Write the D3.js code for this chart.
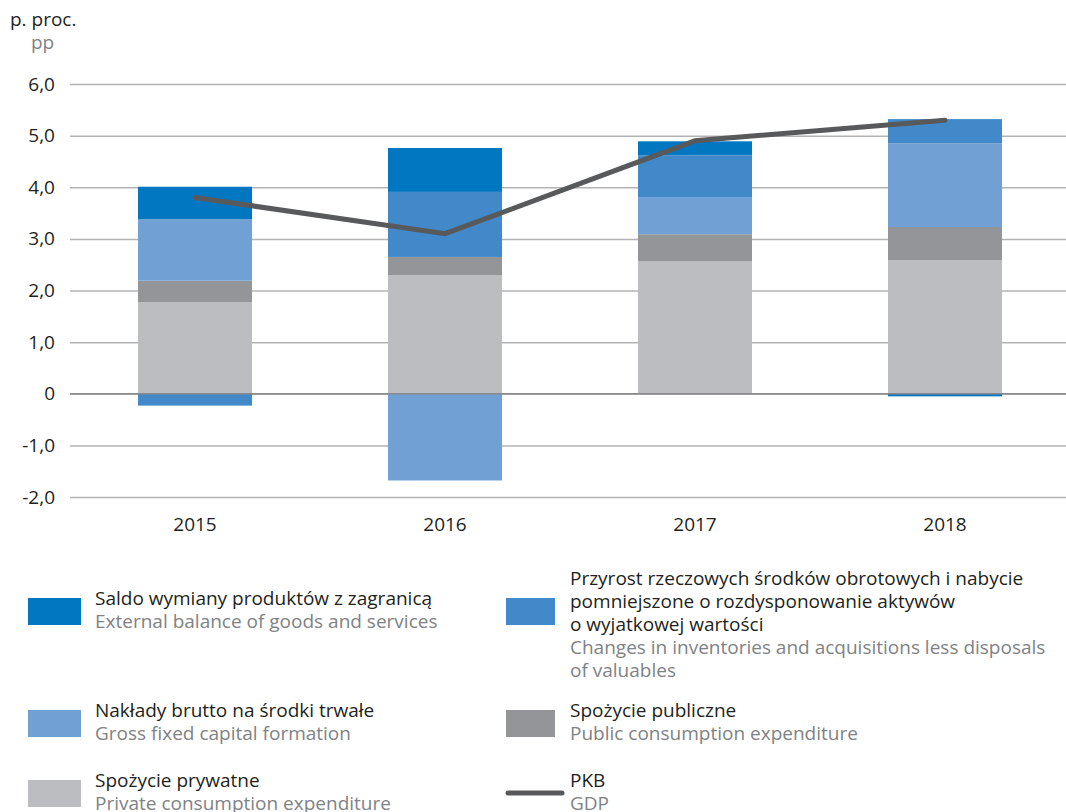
<!DOCTYPE html>
<html>
<head>
<meta charset="utf-8">
<script src="https://cdn.jsdelivr.net/npm/d3@7"></script>
<style>
  body { margin: 0; background: #fff; font-family: "Open Sans", "Noto Sans", sans-serif; }
  .grid line { stroke: #b3b3b5; stroke-width: 1.5px; }
  .grid .domain { display: none; }
</style>
</head>
<body>
<div id="chart"></div>
<script>
var years = ["2015", "2016", "2017", "2018"];
var privateCons = [1.77, 2.30, 2.57, 2.59];
var publicCons = [0.42, 0.35, 0.52, 0.64];
var grossFixed = [1.19, -1.68, 0.72, 1.62];
var inventories = [-0.23, 1.26, 0.81, 0.47];
var external = [0.63, 0.85, 0.27, -0.05];
var gdp = [3.8, 3.1, 4.9, 5.3];
var yTicks = [-2, -1, 0, 1, 2, 3, 4, 5, 6];

var seriesKeys = ["private", "public", "gross", "inv", "ext"];
var seriesColors = {ext: "#0077c0", inv: "#4289c9", gross: "#70a0d4", "public": "#939598", "private": "#bcbdc0"};

var rows = years.map(function(y, i){
  return {year: y, "private": privateCons[i], "public": publicCons[i], gross: grossFixed[i], inv: inventories[i], ext: external[i]};
});

var width = 1066, height = 812;
var margin = {top: 84, left: 70, right: -4};
var plotH = 413;

var svg = d3.select("#chart").append("svg")
  .attr("width", width)
  .attr("height", height);

/*Scales*/
var xScale = d3.scaleBand()
  .domain(years)
  .range([margin.left, width - margin.right])
  .paddingInner(0.544)
  .paddingOuter(0.272);

var yScale = d3.scaleLinear()
  .domain([6, -2])
  .range([margin.top, margin.top + plotH]);

function fmt(d){
  if (d === 0) return "0";
  return d3.format(".1f")(d).replace(".", ",").replace("\u2212", "-");
}

// gridlines + tick labels
var yAxis = d3.axisLeft(yScale)
  .tickValues(yTicks)
  .tickSize(-(width - margin.left))
  .tickPadding(15)
  .tickFormat(fmt);

var gy = svg.append("g")
  .attr("class", "grid")
  .attr("transform", "translate(" + margin.left + ",0)")
  .call(yAxis);
gy.selectAll("text")
  .style("font-size", "19px")
  .style("fill", "#231f20")
  .style("font-family", "'Open Sans', sans-serif");

/*stacked bars*/
var stack = d3.stack().keys(seriesKeys).offset(d3.stackOffsetDiverging);
var stacked = stack(rows);

svg.append("g").selectAll("g")
  .data(stacked)
  .join("g")
  .attr("fill", function(d){ return seriesColors[d.key]; })
  .selectAll("rect")
  .data(function(d){ return d; })
  .join("rect")
  .attr("x", function(d){ return xScale(d.data.year); })
  .attr("width", xScale.bandwidth())
  .attr("y", function(d){ return yScale(Math.max(d[0], d[1])); })
  .attr("height", function(d){ return Math.abs(yScale(d[0]) - yScale(d[1])); });

// zero line
svg.append("line")
  .attr("x1", margin.left).attr("x2", width)
  .attr("y1", yScale(0)).attr("y2", yScale(0))
  .attr("stroke", "#8a8a8c").attr("stroke-width", 1.5);

/*GDP line*/
var gdpLine = d3.line()
  .x(function(d, i){ return xScale(years[i]) + xScale.bandwidth() / 2; })
  .y(function(d){ return yScale(d); });

svg.append("path")
  .datum(gdp)
  .attr("d", gdpLine)
  .attr("fill", "none")
  .attr("stroke", "#58595b")
  .attr("stroke-width", 5)
  .attr("stroke-linecap", "round")
  .attr("stroke-linejoin", "miter");

// x labels
svg.append("g").selectAll("text")
  .data(years)
  .join("text")
  .attr("x", function(d){ return xScale(d) + xScale.bandwidth() / 2; })
  .attr("y", 531)
  .attr("text-anchor", "middle")
  .style("font-size", "19px")
  .style("fill", "#231f20")
  .text(function(d){ return d; });

// unit label
svg.append("text").attr("x", 10).attr("y", 26)
  .style("font-size", "19px").style("fill", "#231f20").text("p. proc.");
svg.append("text").attr("x", 31).attr("y", 49)
  .style("font-size", "19px").style("fill", "#808285").text("pp");

/*legend*/
var legendItems = [
  {x: 28, y: 598, key: "ext", pl: ["Saldo wymiany produktów z zagranicą"], en: ["External balance of goods and services"], ty: 605},
  {x: 506, y: 598, key: "inv", pl: ["Przyrost rzeczowych środków obrotowych i nabycie", "pomniejszone o rozdysponowanie aktywów", "o wyjatkowej wartości"], en: ["Changes in inventories and acquisitions less disposals", "of valuables"], ty: 585},
  {x: 28, y: 710, key: "gross", pl: ["Nakłady brutto na środki trwałe"], en: ["Gross fixed capital formation"], ty: 717},
  {x: 506, y: 710, key: "public", pl: ["Spożycie publiczne"], en: ["Public consumption expenditure"], ty: 717},
  {x: 28, y: 780, key: "private", pl: ["Spożycie prywatne"], en: ["Private consumption expenditure"], ty: 787},
  {x: 506, y: 780, key: "gdp", pl: ["PKB"], en: ["GDP"], ty: 787}
];

var lg = svg.append("g").selectAll("g")
  .data(legendItems)
  .join("g");

lg.each(function(d){
  var g = d3.select(this);
  if (d.key === "gdp") {
    g.append("line")
      .attr("x1", d.x + 2).attr("x2", d.x + 56)
      .attr("y1", d.y + 13).attr("y2", d.y + 13)
      .attr("stroke", "#58595b").attr("stroke-width", 5)
      .attr("stroke-linecap", "round");
  } else {
    g.append("rect")
      .attr("x", d.x).attr("y", d.y)
      .attr("width", d.x < 100 ? 53 : 49).attr("height", 27)
      .attr("fill", seriesColors[d.key]);
  }
  var tx = d.x < 100 ? 95 : 570;
  var lines = d.pl.map(function(t){ return {t: t, c: "#231f20"}; })
    .concat(d.en.map(function(t){ return {t: t, c: "#808285"}; }));
  lines.forEach(function(l, i){
    g.append("text")
      .attr("x", tx).attr("y", d.ty + i * 23)
      .style("font-size", "19px")
      .style("fill", l.c)
      .text(l.t);
  });
});
</script>
</body>
</html>
